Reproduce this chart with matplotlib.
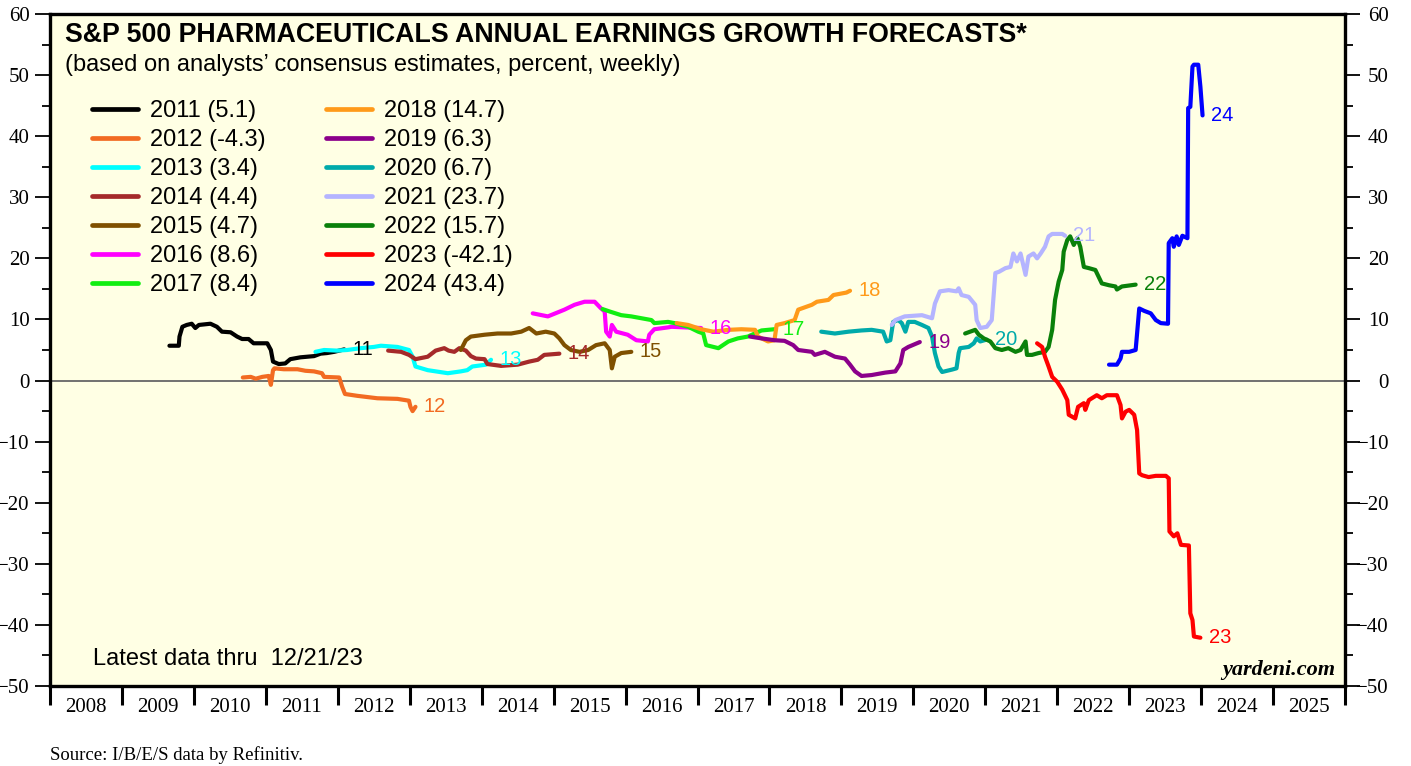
import matplotlib
matplotlib.use("Agg")
import matplotlib.pyplot as plt
from matplotlib.ticker import MultipleLocator, FixedLocator, NullFormatter
from matplotlib.transforms import ScaledTranslation

# forecast series: decimal year, percent
t2011 = [2009.66, 2009.79, 2009.80, 2009.84, 2009.90, 2009.97, 2010.02, 2010.07, 2010.23, 2010.32,
         2010.39, 2010.51, 2010.60, 2010.67, 2010.76, 2010.83, 2011.02, 2011.07, 2011.10, 2011.18,
         2011.27, 2011.34, 2011.48, 2011.67, 2011.76, 2011.85, 2011.95, 2012.09]
v2011 = [5.7, 5.7, 7.2, 8.8, 9.1, 9.3, 8.6, 9.1, 9.3, 8.8, 8.0, 7.9, 7.2, 6.8, 6.8, 6.1, 6.1, 5.0,
         3.1, 2.7, 2.8, 3.5, 3.8, 4.0, 4.4, 4.5, 4.7, 5.1]

t2012 = [2010.68, 2010.79, 2010.86, 2010.95, 2011.04, 2011.07, 2011.10, 2011.12, 2011.25, 2011.44,
         2011.55, 2011.67, 2011.78, 2011.81, 2012.02, 2012.06, 2012.10, 2012.27, 2012.55, 2012.83,
         2012.99, 2013.01, 2013.04, 2013.08]
v2012 = [0.5, 0.6, 0.3, 0.6, 0.75, -0.7, 1.7, 2.0, 1.85, 1.85, 1.6, 1.5, 1.2, 0.6, 0.5, -1.0,
         -2.2, -2.5, -2.9, -3.0, -3.3, -4.3, -5.0, -4.3]

t2013 = [2011.69, 2011.81, 2011.99, 2012.13, 2012.32, 2012.50, 2012.60, 2012.83, 2012.99, 2013.04,
         2013.08, 2013.25, 2013.53, 2013.71, 2013.80, 2013.87, 2014.06, 2014.13]
v2013 = [4.7, 5.0, 4.9, 5.0, 5.3, 5.5, 5.7, 5.5, 5.0, 3.9, 2.3, 1.7, 1.2, 1.5, 1.7, 2.3, 2.6, 3.4]

t2014 = [2012.70, 2012.88, 2012.99, 2013.08, 2013.25, 2013.36, 2013.48, 2013.54, 2013.62, 2013.69,
         2013.78, 2013.85, 2013.92, 2014.04, 2014.08, 2014.27, 2014.50, 2014.66, 2014.78, 2014.87,
         2015.08]
v2014 = [4.9, 4.7, 4.2, 3.5, 3.9, 4.9, 5.3, 4.9, 4.7, 5.3, 4.9, 4.0, 3.6, 3.5, 2.7, 2.4, 2.6, 3.1,
         3.4, 4.2, 4.4]

t2015 = [2013.71, 2013.78, 2013.85, 2014.04, 2014.22, 2014.41, 2014.55, 2014.66, 2014.76, 2014.89,
         2015.01, 2015.08, 2015.15, 2015.24, 2015.36, 2015.48, 2015.59, 2015.71, 2015.78, 2015.81,
         2015.85, 2015.94, 2016.08]
v2015 = [5.0, 6.6, 7.2, 7.5, 7.7, 7.7, 8.0, 8.6, 7.7, 8.0, 7.7, 6.9, 5.8, 5.0, 4.7, 5.0, 5.8, 6.1,
         5.0, 2.0, 3.9, 4.5, 4.7]

t2016 = [2014.71, 2014.92, 2015.15, 2015.29, 2015.43, 2015.57, 2015.66, 2015.71, 2015.73, 2015.78,
         2015.81, 2015.87, 2016.03, 2016.15, 2016.31, 2016.33, 2016.40, 2016.59, 2016.64, 2016.82,
         2017.05]
v2016 = [11.0, 10.5, 11.6, 12.4, 12.9, 12.9, 11.8, 11.3, 8.0, 7.2, 9.1, 8.0, 7.5, 6.6, 6.4, 7.5,
         8.4, 8.7, 8.8, 8.7, 8.6]

t2017 = [2015.68, 2015.78, 2015.94, 2016.08, 2016.22, 2016.36, 2016.40, 2016.59, 2016.68, 2016.87,
         2017.01, 2017.08, 2017.12, 2017.29, 2017.43, 2017.56, 2017.70, 2017.89, 2018.07]
v2017 = [11.7, 11.3, 10.7, 10.5, 10.2, 9.9, 9.4, 9.6, 9.4, 8.8, 8.0, 7.7, 5.8, 5.3, 6.4, 6.9, 7.2,
         8.2, 8.4]

t2018 = [2016.71, 2016.87, 2017.05, 2017.22, 2017.43, 2017.61, 2017.80, 2017.84, 2017.98, 2018.07,
         2018.10, 2018.21, 2018.35, 2018.40, 2018.59, 2018.66, 2018.82, 2018.89, 2019.07, 2019.12]
v2018 = [9.4, 9.1, 8.4, 8.0, 8.3, 8.4, 8.3, 7.2, 6.4, 6.6, 9.1, 9.4, 9.9, 11.6, 12.4, 12.9, 13.2,
         14.0, 14.4, 14.7]

t2019 = [2017.73, 2017.89, 2018.07, 2018.21, 2018.33, 2018.40, 2018.59, 2018.63, 2018.77, 2018.91,
         2019.05, 2019.12, 2019.19, 2019.28, 2019.42, 2019.61, 2019.75, 2019.82, 2019.86, 2019.93,
         2020.09]
v2019 = [7.2, 6.9, 6.6, 6.5, 5.8, 5.0, 4.7, 4.2, 4.7, 3.9, 3.6, 2.6, 1.5, 0.75, 0.9, 1.3, 1.5, 2.8,
         5.0, 5.5, 6.3]

t2020 = [2018.72, 2018.91, 2019.10, 2019.28, 2019.42, 2019.58, 2019.63, 2019.68, 2019.72, 2019.79,
         2019.84, 2019.89, 2019.93, 2020.02, 2020.12, 2020.21, 2020.26, 2020.30, 2020.35, 2020.40,
         2020.54, 2020.60, 2020.63, 2020.65, 2020.77, 2020.84, 2020.88, 2020.93, 2021.02]
v2020 = [8.0, 7.7, 8.0, 8.2, 8.3, 8.0, 6.4, 6.6, 9.6, 9.9, 9.4, 8.0, 9.6, 9.6, 9.1, 8.6, 7.2, 4.5,
         2.3, 1.4, 1.8, 2.0, 4.5, 5.3, 5.5, 6.1, 6.9, 6.4, 6.7]

t2021 = [2019.70, 2019.75, 2019.88, 2020.12, 2020.26, 2020.30, 2020.37, 2020.49, 2020.60, 2020.63,
         2020.67, 2020.77, 2020.86, 2020.88, 2020.93, 2021.02, 2021.09, 2021.14, 2021.19, 2021.28,
         2021.35, 2021.39, 2021.44, 2021.49, 2021.56, 2021.60, 2021.67, 2021.72, 2021.77, 2021.83,
         2021.88, 2021.93, 2022.07, 2022.11]
v2021 = [9.1, 9.9, 10.5, 10.7, 10.2, 12.6, 14.6, 14.8, 14.6, 15.1, 14.0, 13.7, 12.4, 9.9, 8.6, 8.8,
         9.9, 17.6, 17.8, 18.4, 18.6, 20.8, 19.5, 20.8, 17.3, 20.3, 20.8, 20.0, 20.8, 21.9, 23.6,
         24.0, 24.0, 23.7]

t2022 = [2020.72, 2020.79, 2020.86, 2020.91, 2020.98, 2021.07, 2021.14, 2021.23, 2021.32, 2021.42,
         2021.49, 2021.56, 2021.58, 2021.65, 2021.74, 2021.83, 2021.88, 2021.93, 2021.97, 2022.02,
         2022.07, 2022.09, 2022.14, 2022.18, 2022.23, 2022.28, 2022.32, 2022.37, 2022.44, 2022.53,
         2022.62, 2022.72, 2022.81, 2022.83, 2022.90, 2023.09]
v2022 = [7.7, 8.0, 8.3, 7.5, 6.9, 6.4, 5.3, 5.0, 5.3, 4.7, 5.0, 6.4, 4.2, 4.2, 4.5, 4.7, 5.5, 8.3,
         13.2, 16.2, 18.1, 21.1, 23.0, 23.6, 22.2, 23.3, 21.9, 18.6, 18.4, 18.1, 15.9, 15.6, 15.4,
         14.9, 15.4, 15.7]

t2023 = [2021.72, 2021.79, 2021.83, 2021.88, 2021.93, 2022.00, 2022.07, 2022.14, 2022.16, 2022.25,
         2022.29, 2022.37, 2022.39, 2022.44, 2022.55, 2022.62, 2022.69, 2022.83, 2022.88, 2022.90,
         2022.95, 2023.00, 2023.07, 2023.11, 2023.14, 2023.18, 2023.27, 2023.37, 2023.51, 2023.55,
         2023.56, 2023.62, 2023.67, 2023.72, 2023.83, 2023.85, 2023.88, 2023.90, 2023.99]
v2023 = [6.1, 5.5, 3.9, 2.3, 0.6, -0.2, -1.5, -3.2, -5.6, -6.2, -4.3, -3.7, -4.8, -3.2, -2.4, -2.9,
         -2.4, -2.4, -4.0, -6.2, -5.1, -4.8, -5.6, -8.1, -15.2, -15.5, -15.8, -15.6, -15.6, -16.0,
         -24.7, -25.5, -25.0, -26.9, -27.0, -38.1, -39.2, -41.9, -42.1]

t2024 = [2022.72, 2022.83, 2022.88, 2022.90, 2023.00, 2023.09, 2023.11, 2023.14, 2023.21, 2023.30,
         2023.37, 2023.44, 2023.54, 2023.55, 2023.60, 2023.62, 2023.66, 2023.69, 2023.74, 2023.81,
         2023.82, 2023.85, 2023.88, 2023.90, 2023.96, 2023.99, 2024.02]
v2024 = [2.6, 2.6, 3.6, 4.7, 4.7, 5.0, 7.7, 11.8, 11.4, 11.0, 9.9, 9.4, 9.3, 22.5, 23.3, 21.9, 23.6,
         22.2, 23.7, 23.3, 44.6, 44.8, 51.4, 51.7, 51.7, 48.1, 43.4]

years = [2011, 2012, 2013, 2014, 2015, 2016, 2017, 2018, 2019, 2020, 2021, 2022, 2023, 2024]
finals = [5.1, -4.3, 3.4, 4.4, 4.7, 8.6, 8.4, 14.7, 6.3, 6.7, 23.7, 15.7, -42.1, 43.4]
xticklabels = [str(y) for y in range(2008, 2026)]

times = [t2011, t2012, t2013, t2014, t2015, t2016, t2017, t2018, t2019, t2020, t2021, t2022, t2023, t2024]
values = [v2011, v2012, v2013, v2014, v2015, v2016, v2017, v2018, v2019, v2020, v2021, v2022, v2023, v2024]
colors = ["#000000", "#f26b22", "#00ffff", "#a52a2a", "#7f5000", "#ff00ff", "#11ee11",
          "#ff9a1a", "#8b008b", "#00aaaa", "#b4b4ff", "#0a800a", "#ff0000", "#0000ff"]

SANS = "Liberation Sans"
SERIF = "Liberation Serif"

W, H = 1411, 766
fig = plt.figure(figsize=(W / 100, H / 100), dpi=100)
ax = fig.add_axes([50 / W, 1 - 686 / H, 1295 / W, 672 / H])
ax.set_facecolor("#ffffe4")

ax.axhline(0, color="#666666", lw=1.3, zorder=1)

lines = []
for t, v, c, yr, fin in zip(times, values, colors, years, finals):
    ln, = ax.plot(t, v, color=c, lw=3.0, solid_joinstyle="round", solid_capstyle="round",
                  zorder=3, label="%d (%s)" % (yr, fin))
    lines.append(ln)
    ax.annotate(str(yr)[2:], (t[-1], v[-1]), xytext=(6, 0), textcoords="offset points",
                ha="left", va="center", color=c, fontsize=14.5, family=SANS, zorder=4)

ax.set_xlim(2008, 2026)
ax.set_ylim(-50, 60)

# year boundaries get the ticks, year centres get the labels
ax.xaxis.set_major_locator(FixedLocator(range(2008, 2027)))
ax.xaxis.set_major_formatter(NullFormatter())
ax.xaxis.set_minor_locator(FixedLocator([y + 0.5 for y in range(2008, 2026)]))
ax.set_xticklabels(xticklabels, minor=True)
ax.tick_params(axis="x", which="major", direction="out", length=13.5, width=2.2, color="black")
ax.tick_params(axis="x", which="minor", length=0, pad=9, labelsize=15)

ax.yaxis.set_major_locator(MultipleLocator(10))
ax.yaxis.set_minor_locator(MultipleLocator(5))
ax.tick_params(axis="y", which="both", direction="out", left=True, right=True,
               labelleft=True, labelright=True, width=1.3)
ax.tick_params(axis="y", which="major", length=11, labelsize=15, pad=3.5)
ax.tick_params(axis="y", which="minor", length=5.8)
for lbl in ax.get_xticklabels(minor=True) + ax.get_yticklabels():
    lbl.set_family(SERIF)
# right-hand labels are right aligned at a fixed edge
for tk in ax.yaxis.get_major_ticks():
    tk.label2.set_family(SERIF)
    tk.label2.set_fontsize(15)
    tk.label2.set_horizontalalignment("right")
    tk.label2.set_transform(ax.get_yaxis_transform() +
                            ScaledTranslation(44 / 100, 0, fig.dpi_scale_trans))

for s in ax.spines.values():
    s.set_linewidth(2.4)

leg = ax.legend(handles=lines, ncol=2, loc="upper left", bbox_to_anchor=(92 / W, 1 - 100 / H),
                bbox_transform=fig.transFigure, frameon=False, borderpad=0, borderaxespad=0,
                handlelength=1.95, handletextpad=0.5, columnspacing=2.55, labelspacing=0.3,
                prop={"family": SANS, "size": 17})
for ln in leg.get_lines():
    ln.set_linewidth(3.4)

fig.text(65 / W, 1 - 35 / H, "S&P 500 PHARMACEUTICALS ANNUAL EARNINGS GROWTH FORECASTS*",
         family=SANS, weight="bold", fontsize=19.3, va="center", ha="left")
fig.text(65 / W, 1 - 65 / H, "(based on analysts\u2019 consensus estimates, percent, weekly)",
         family=SANS, fontsize=17, va="center", ha="left")
fig.text(93 / W, 1 - 659 / H, "Latest data thru  12/21/23", family=SANS, fontsize=17,
         va="center", ha="left")
fig.text(1335 / W, 1 - 670 / H, "yardeni.com", family=SERIF, weight="bold", style="italic",
         fontsize=16, va="center", ha="right")
fig.text(50 / W, 1 - 755 / H, "Source: I/B/E/S data by Refinitiv.", family=SERIF, fontsize=13.5,
         va="center", ha="left")

fig.savefig("out.png", dpi=100, facecolor="white")
